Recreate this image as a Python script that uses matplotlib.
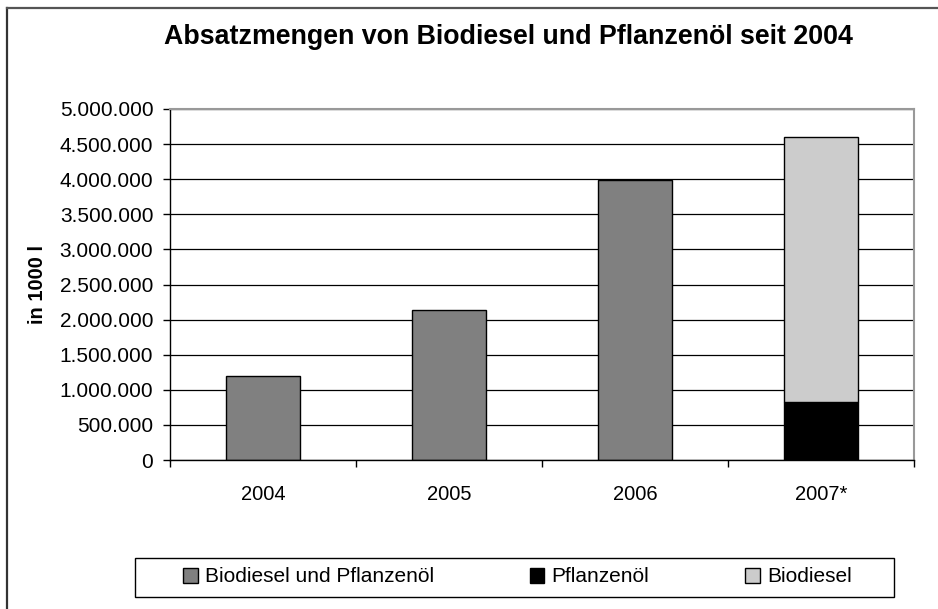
import matplotlib
matplotlib.use('Agg')
import matplotlib.pyplot as plt
from matplotlib.patches import Rectangle, Patch
from matplotlib.lines import Line2D
from matplotlib.ticker import FuncFormatter, FixedLocator
import numpy as np

plt.rcParams['font.family'] = ['Liberation Sans', 'DejaVu Sans']

# ---- data ----
years = ['2004', '2005', '2006', '2007*']
biodiesel_pflanzenoel = [1190000, 2130000, 3990000, 0]
pflanzenoel = [0, 0, 0, 820000]
biodiesel = [0, 0, 0, 3780000]
series_names = ['Biodiesel und Pflanzenöl', 'Pflanzenöl', 'Biodiesel']
series_colors = ['#808080', '#000000', '#cccccc']
yticks = [0, 500000, 1000000, 1500000, 2000000, 2500000, 3000000,
          3500000, 4000000, 4500000, 5000000]
title = 'Absatzmengen von Biodiesel und Pflanzenöl seit 2004'
ylabel = 'in 1000 l'

W, H = 938, 609
fig = plt.figure(figsize=(W / 100, H / 100), dpi=100)
fig.patch.set_facecolor('white')

# plot area in pixels
L, R, T, B = 170, 914, 109, 460
ax = fig.add_axes([L / W, 1 - B / H, (R - L) / W, (B - T) / H])

x = np.arange(len(years))
w = 0.40

def draw(vals, bottoms, color, lw=1.0):
    for xi, v, b in zip(x, vals, bottoms):
        if v > 0:
            ax.bar(xi, v, w, bottom=b, color=color, edgecolor='black',
                   linewidth=lw, zorder=3)

draw(biodiesel_pflanzenoel, [0] * 4, series_colors[0])
draw(pflanzenoel, [0] * 4, series_colors[1])
draw(biodiesel, pflanzenoel, series_colors[2])

ax.set_xlim(-0.5, len(years) - 0.5)
ax.set_ylim(0, 5000000)

ax.yaxis.set_major_locator(FixedLocator(yticks))
ax.yaxis.set_major_formatter(
    FuncFormatter(lambda v, p: f'{int(v):,}'.replace(',', '.')))
ax.tick_params(axis='y', direction='out', length=5, width=1, pad=7,
               labelsize=15, colors='black')

# x: ticks at category boundaries, labels at centers
ax.xaxis.set_major_locator(FixedLocator(np.arange(-0.5, len(years), 1.0)))
ax.xaxis.set_major_formatter(FuncFormatter(lambda v, p: ''))
ax.xaxis.set_minor_locator(FixedLocator(x))
ax.set_xticklabels(years, minor=True)
ax.tick_params(axis='x', which='major', direction='out', length=5, width=1)
ax.tick_params(axis='x', which='minor', length=0, pad=18, labelsize=14.5)

ax.grid(axis='y', color='black', linewidth=0.9, zorder=0)
ax.set_axisbelow(True)
for s in ['left', 'bottom']:
    ax.spines[s].set_color('black')
    ax.spines[s].set_linewidth(1.0)
    ax.spines[s].set_zorder(4)
for s in ['top', 'right']:
    ax.spines[s].set_color('#999999')
    ax.spines[s].set_linewidth(1.5)
    ax.spines[s].set_zorder(4)

ax.set_ylabel(ylabel, fontsize=14.5, fontweight='bold', labelpad=9)

fig.text(508 / W, 1 - 37 / H, title, ha='center', va='center',
         fontsize=19.3, fontweight='bold')

# legend
handles = [Patch(facecolor=c, edgecolor='black', linewidth=1.0)
           for c in series_colors]
leg = fig.legend(handles, series_names, loc='center left',
                 bbox_to_anchor=(183 / W, 1 - 577 / H), ncol=3,
                 frameon=False, fontsize=15, handlelength=0.7,
                 handleheight=0.7, handletextpad=0.35, columnspacing=4.6,
                 borderpad=0, borderaxespad=0)
fig.add_artist(Rectangle((135 / W, 1 - 597 / H), (894 - 135) / W, 39 / H,
                         transform=fig.transFigure, fill=False,
                         edgecolor='black', linewidth=1.0))

# outer chart border (left and top visible)
fig.add_artist(Line2D([7 / W, 7 / W], [0, 1 - 8 / H], transform=fig.transFigure,
                      color='#333333', linewidth=1.6))
fig.add_artist(Line2D([7 / W, 1], [1 - 8 / H, 1 - 8 / H], transform=fig.transFigure,
                      color='#555555', linewidth=1.6))

fig.savefig('out.png', dpi=100)
